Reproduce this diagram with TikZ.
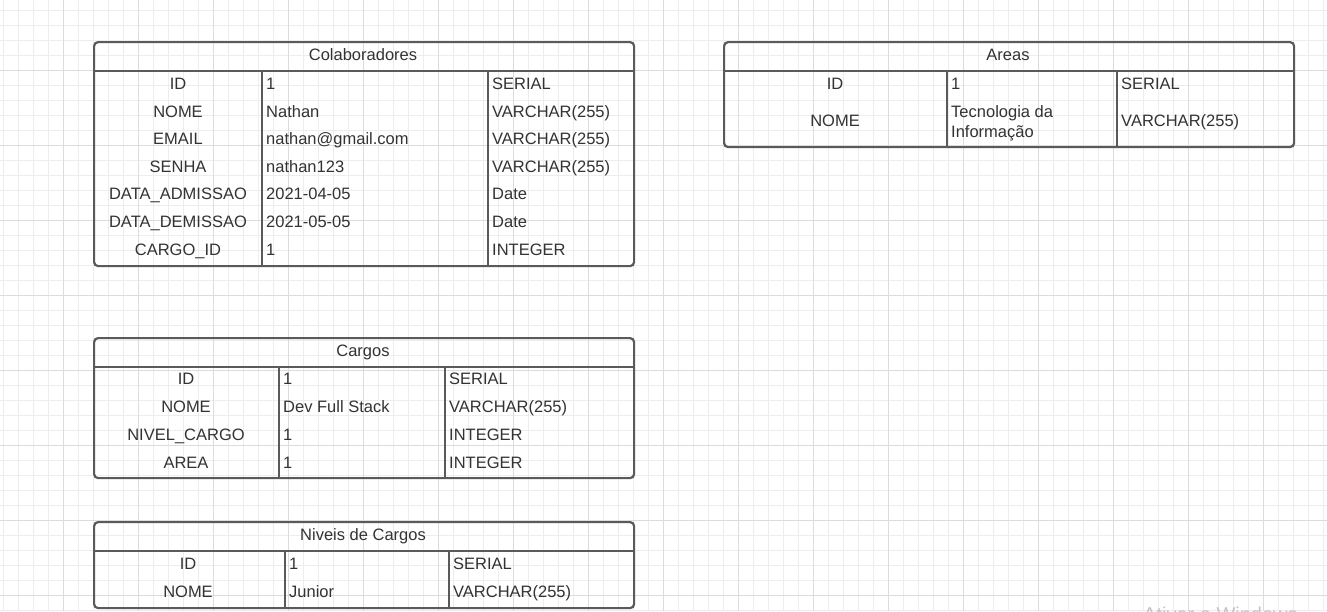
\documentclass[tikz,border=0pt]{standalone}
\usepackage{fontspec}
\setmainfont{Liberation Sans}
\definecolor{gridminor}{HTML}{EDEDED}
\definecolor{gridmajor}{HTML}{DCDCDC}
\definecolor{bord}{HTML}{5A5A5A}
\definecolor{txt}{HTML}{333333}
\definecolor{wmark}{HTML}{C4C4C4}
\begin{document}
\begin{tikzpicture}[x=1pt,y=-1pt,
  tbl/.style={draw=bord, line width=2.2pt, rounded corners=4pt, anchor=north west, inner sep=0pt},
  div/.style={draw=bord, line width=2.2pt},
  cell/.style={font=\fontsize{16.5}{20}\selectfont, text=txt, inner sep=0pt, anchor=base},
  val/.style={cell, anchor=base west},
  hdr/.style={cell}]
\useasboundingbox (0,0) rectangle (1327,611);
\fill[white] (0,0) rectangle (1327,611);
% grid
\foreach \x in {3,18,...,1326} \draw[gridminor, line width=1pt] (\x,0) -- (\x,611);
\foreach \y in {10,25,...,610} \draw[gridminor, line width=1pt] (0,\y) -- (1327,\y);
\foreach \x in {63,138,...,1326} \draw[gridmajor, line width=1pt] (\x,0) -- (\x,611);
\foreach \y in {70,145,...,610} \draw[gridmajor, line width=1pt] (0,\y) -- (1327,\y);

% ---------- Colaboradores ----------
\node[tbl, minimum width=540pt, minimum height=224pt] (colab) at (93,41) {};
\draw[div] (93,71) -- (633,71);
\draw[div] (262,71) -- (262,265);
\draw[div] (488,71) -- (488,265);
\node[hdr] (colabh) at (363,60) {Colaboradores};
\foreach \k/\v/\t/\yy [count=\i] in {ID/1/SERIAL/89, NOME/Nathan/VARCHAR(255)/117, EMAIL/nathan@gmail.com/VARCHAR(255)/144, SENHA/nathan123/VARCHAR(255)/172, DATA\_ADMISSAO/2021-04-05/Date/199, DATA\_DEMISSAO/2021-05-05/Date/227, CARGO\_ID/1/INTEGER/255}{
  \node[cell] (colk\i) at (178,\yy) {\k};
  \node[val] (colv\i) at (266,\yy) {\v};
  \node[val] (colt\i) at (492,\yy) {\t};
}

% ---------- Areas ----------
\node[tbl, minimum width=570pt, minimum height=105pt] (areas) at (723,41) {};
\draw[div] (723,71) -- (1293,71);
\draw[div] (947,71) -- (947,146);
\draw[div] (1117,71) -- (1117,146);
\node[hdr] (areash) at (1008,60) {Areas};
\node[cell] (arek1) at (835,89) {ID};
\node[val] (arev1) at (951,89) {1};
\node[val] (aret1) at (1121,89) {SERIAL};
\node[cell] (arek2) at (835,126) {NOME};
\node[cell, anchor=west, align=left] (arev2) at (951,123) {Tecnologia da\\Informação};
\node[val] (aret2) at (1121,126) {VARCHAR(255)};

% ---------- Cargos ----------
\node[tbl, minimum width=540pt, minimum height=140pt] (cargos) at (93,337) {};
\draw[div] (93,367) -- (633,367);
\draw[div] (279,367) -- (279,477);
\draw[div] (445,367) -- (445,477);
\node[hdr] (cargosh) at (363,356) {Cargos};
\foreach \k/\v/\t/\yy [count=\i] in {ID/1/SERIAL/384, NOME/Dev Full Stack/VARCHAR(255)/412, NIVEL\_CARGO/1/INTEGER/440, AREA/1/INTEGER/468}{
  \node[cell] (cark\i) at (186,\yy) {\k};
  \node[val] (carv\i) at (283,\yy) {\v};
  \node[val] (cart\i) at (449,\yy) {\t};
}

% ---------- Niveis de Cargos ----------
\node[tbl, minimum width=540pt, minimum height=86pt] (niveis) at (93,521) {};
\draw[div] (93,551) -- (633,551);
\draw[div] (285,551) -- (285,607);
\draw[div] (449,551) -- (449,607);
\node[hdr] (niveish) at (363,540) {Niveis de Cargos};
\foreach \k/\v/\t/\yy [count=\i] in {ID/1/SERIAL/569, NOME/Junior/VARCHAR(255)/597}{
  \node[cell] (nivk\i) at (188,\yy) {\k};
  \node[val] (nivv\i) at (289,\yy) {\v};
  \node[val] (nivt\i) at (453,\yy) {\t};
}

% ---------- watermark (cut off at the bottom edge) ----------
\begin{scope}
\clip (0,0) rectangle (1327,611);
\node[anchor=base west, inner sep=0pt, font=\fontsize{20}{24}\selectfont, text=wmark] (wm) at (1143,621) {Ativar o Windows};
\end{scope}
\end{tikzpicture}
\end{document}
